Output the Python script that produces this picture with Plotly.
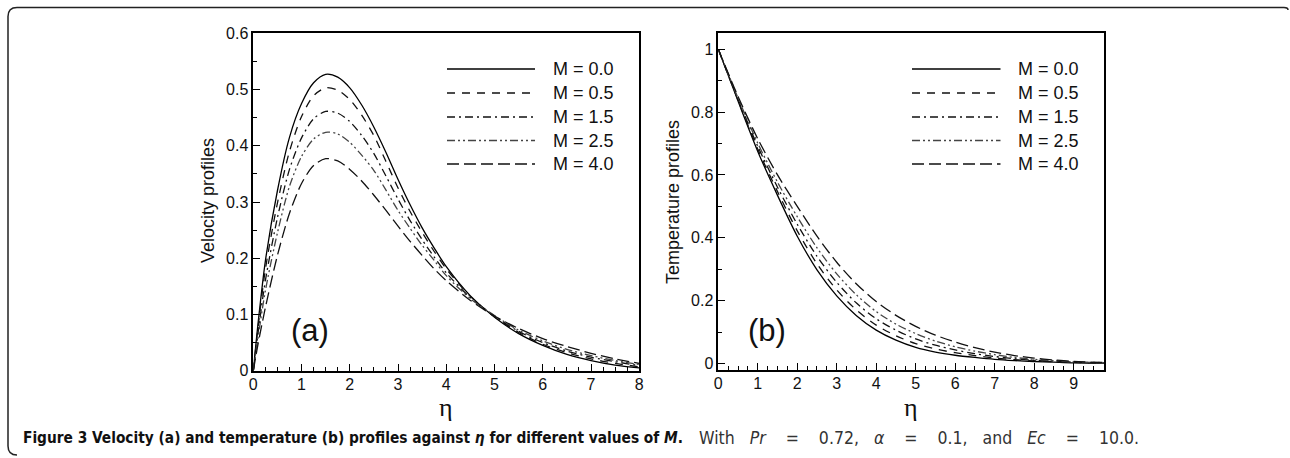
import plotly.graph_objects as go

W, H = 1290, 458

# ---------------- data ----------------
series_names = ["M = 0.0", "M = 0.5", "M = 1.5", "M = 2.5", "M = 4.0"]

eta_v = [0, 0.1, 0.25, 0.5, 0.75, 1.0, 1.25, 1.5, 1.75, 2.0, 2.25, 2.5, 2.75,
         3.0, 3.25, 3.5, 3.75, 4.0, 4.5, 5.0, 5.5, 6.0, 6.5, 7.0, 7.5, 8.0]
vel_M00 = [0, 0.085, 0.195, 0.32, 0.415, 0.475, 0.512, 0.527, 0.522, 0.503, 0.472, 0.433, 0.388,
           0.340, 0.295, 0.254, 0.218, 0.185, 0.133, 0.095, 0.066, 0.045, 0.029, 0.018, 0.010, 0.005]
vel_M05 = [0, 0.078, 0.18, 0.298, 0.39, 0.452, 0.489, 0.503, 0.499, 0.482, 0.454, 0.418, 0.372,
           0.325, 0.283, 0.246, 0.212, 0.181, 0.132, 0.096, 0.068, 0.047, 0.032, 0.021, 0.013, 0.007]
vel_M15 = [0, 0.068, 0.16, 0.272, 0.358, 0.414, 0.448, 0.461, 0.458, 0.443, 0.418, 0.386, 0.346,
           0.305, 0.267, 0.233, 0.202, 0.174, 0.130, 0.097, 0.070, 0.050, 0.035, 0.024, 0.016, 0.009]
vel_M25 = [0, 0.06, 0.142, 0.245, 0.328, 0.381, 0.412, 0.424, 0.421, 0.406, 0.383, 0.356, 0.321,
           0.285, 0.253, 0.223, 0.196, 0.169, 0.128, 0.098, 0.072, 0.053, 0.038, 0.027, 0.018, 0.011]
vel_M40 = [0, 0.048, 0.112, 0.205, 0.28, 0.333, 0.365, 0.377, 0.373, 0.358, 0.337, 0.312, 0.285,
           0.257, 0.230, 0.205, 0.181, 0.160, 0.125, 0.097, 0.075, 0.057, 0.043, 0.031, 0.021, 0.013]

eta_t = [0, 0.5, 1.0, 1.5, 2.0, 2.5, 3.0, 3.5, 4.0, 4.5, 5.0, 5.5, 6.0, 6.5, 7.0, 7.5,
         8.0, 8.5, 9.0, 10.0]
tem_M00 = [1, 0.835, 0.675, 0.535, 0.405, 0.298, 0.215, 0.152, 0.106, 0.074, 0.051, 0.036,
           0.026, 0.019, 0.013, 0.009, 0.006, 0.004, 0.002, 0.001]
tem_M05 = [1, 0.838, 0.682, 0.547, 0.422, 0.317, 0.234, 0.170, 0.122, 0.088, 0.063, 0.046,
           0.034, 0.025, 0.017, 0.012, 0.008, 0.005, 0.003, 0.001]
tem_M15 = [1, 0.841, 0.691, 0.561, 0.443, 0.341, 0.258, 0.192, 0.142, 0.106, 0.078, 0.058,
           0.043, 0.031, 0.022, 0.015, 0.010, 0.007, 0.004, 0.001]
tem_M25 = [1, 0.845, 0.701, 0.577, 0.467, 0.368, 0.285, 0.218, 0.165, 0.125, 0.095, 0.071,
           0.053, 0.039, 0.028, 0.019, 0.013, 0.009, 0.005, 0.002]
tem_M40 = [1, 0.850, 0.715, 0.600, 0.500, 0.405, 0.322, 0.253, 0.197, 0.153, 0.118, 0.090,
           0.068, 0.050, 0.036, 0.025, 0.017, 0.011, 0.006, 0.002]

vel_ticks = [0, 0.1, 0.2, 0.3, 0.4, 0.5, 0.6]
tem_ticks = [0, 0.2, 0.4, 0.6, 0.8, 1]

caption_bold = ("Figure 3 Velocity (a) and temperature (b) profiles against <i>η</i> for different "
                "values of <i>M</i>.")
caption_rest = "With <i>Pr</i> = 0.72, <i>α</i> = 0.1, and <i>Ec</i> = 10.0."

# ---------------- styles ----------------
dashes = ["solid", "8px,7px", "8px,4px,2px,4px", "8px,3px,2px,3px,2px,3px", "12px,5px"]
colors = ["#000000", "#111111", "#111111", "#444444", "#111111"]
LW = 1.3


def px(x):
    return x / W


def py(y):
    return 1 - y / H


fig = go.Figure()

vel = [vel_M00, vel_M05, vel_M15, vel_M25, vel_M40]
tem = [tem_M00, tem_M05, tem_M15, tem_M25, tem_M40]
for i, name in enumerate(series_names):
    fig.add_trace(go.Scatter(x=eta_v, y=vel[i], mode="lines", name=name, showlegend=False,
                             line=dict(color=colors[i], width=LW, dash=dashes[i], shape="spline",
                                       smoothing=0.8),
                             xaxis="x", yaxis="y"))
    fig.add_trace(go.Scatter(x=eta_t, y=tem[i], mode="lines", name=name, showlegend=False,
                             line=dict(color=colors[i], width=LW, dash=dashes[i], shape="spline",
                                       smoothing=0.8),
                             xaxis="x2", yaxis="y2"))

tickfont = dict(family="Liberation Sans, Arial, sans-serif", size=16, color="#111")
axis_common = dict(showgrid=False, zeroline=False, showline=True, mirror=True,
                   linecolor="black", linewidth=1.5, ticks="inside", ticklen=7,
                   tickwidth=1, tickcolor="black", tickfont=tickfont, automargin=False)

fig.update_layout(
    width=W, height=H, margin=dict(l=0, r=0, t=0, b=0, autoexpand=False),
    paper_bgcolor="white", plot_bgcolor="white", showlegend=False,
    xaxis=dict(domain=[px(253.3), px(639.3)], range=[0, 8], tickmode="array",
               tickvals=list(range(0, 9)), anchor="y",
               minor=dict(ticks="inside", ticklen=4, dtick=0.25, tick0=0, tickcolor="black"),
               ticklabelstandoff=-2, **axis_common),
    yaxis=dict(domain=[py(370.7), py(33.3)], range=[0, 0.6], tickmode="array",
               tickvals=vel_ticks, ticktext=[f"{v:g}" for v in vel_ticks], anchor="x",
               minor=dict(ticks="inside", ticklen=4, dtick=0.05, tick0=0, tickcolor="black"),
               ticklabelstandoff=0, **axis_common),
    xaxis2=dict(domain=[px(718.3), px(1104)], range=[0, 9.77], tickmode="array",
                tickvals=list(range(0, 10)), anchor="y2",
                minor=dict(ticks="inside", ticklen=4, dtick=0.25, tick0=0, tickcolor="black"),
                ticklabelstandoff=-2, **axis_common),
    yaxis2=dict(domain=[py(370), py(33.3)], range=[-0.021, 1.051], tickmode="array",
                tickvals=tem_ticks, ticktext=[f"{v:g}" for v in tem_ticks], anchor="x2",
                minor=dict(ticks="inside", ticklen=4, dtick=0.1, tick0=0, tickcolor="black"),
                ticklabelstandoff=0, **axis_common),
)

annotations = []
shapes = []


def note(text, x, y, font, xanchor="center", yanchor="middle", **kw):
    annotations.append(dict(text=text, x=x, y=y, xref="paper", yref="paper", showarrow=False,
                            xanchor=xanchor, yanchor=yanchor, font=font, **kw))


# axis titles
title_font = dict(family="Liberation Sans, Arial, sans-serif", size=18, color="#111")
eta_font = dict(family="Liberation Serif, DejaVu Serif, serif", size=26, color="#111")
note("Velocity profiles", px(208), py(201), title_font, textangle=-90)
note("Temperature profiles", px(673), py(202), title_font, textangle=-90)
note("η", px(446), py(407), eta_font)
note("η", px(911), py(407), eta_font)

# panel labels
panel_font = dict(family="Liberation Sans, Arial, sans-serif", size=31, color="#111")
annotations.append(dict(text="(a)", x=1.17, y=0.072, xref="x", yref="y", showarrow=False,
                        xanchor="center", yanchor="middle", font=panel_font))
annotations.append(dict(text="(b)", x=1.23, y=0.106, xref="x2", yref="y2", showarrow=False,
                        xanchor="center", yanchor="middle", font=panel_font))

# legends
legend_font = dict(family="Liberation Sans, Arial, sans-serif", size=18, color="#111")
rows = [69, 93, 117, 140.5, 164]
for (lx0, lx1, tx) in [(447, 535, 551), (912, 1000.5, 1016)]:
    for i, name in enumerate(series_names):
        shapes.append(dict(type="line", xref="paper", yref="paper", x0=px(lx0), x1=px(lx1),
                           y0=py(rows[i]), y1=py(rows[i]),
                           line=dict(color=colors[i], width=LW, dash=dashes[i])))
        note(name, px(tx), py(rows[i]), legend_font, xanchor="left")

# caption
cap_family = "Liberation Sans Narrow, DejaVu Sans Condensed, Arial Narrow, sans-serif"
note("<b>" + caption_bold + "</b>", px(21), py(437.5),
     dict(family=cap_family, size=15.3, color="#111"), xanchor="left")
rest = caption_rest.replace(" = ", "&nbsp;&nbsp;&nbsp;&nbsp;=&nbsp;&nbsp;&nbsp;&nbsp;")
rest = rest.replace(" ", "&nbsp;&nbsp;&nbsp;")
note(rest, px(697), py(437.5), dict(family=cap_family, size=17.5, color="#333"), xanchor="left")

# frame around the figure (rounded top-left / bottom-left)
r = 9
path = (f"M {px(1288)},{py(10)} Q {px(1288)},{py(7.5)} {px(1284)},{py(7.5)} "
        f"L {px(8 + r)},{py(7.5)} Q {px(8)},{py(7.5)} {px(8)},{py(7.5 + r)} "
        f"L {px(8)},{py(455 - r)} Q {px(8)},{py(455)} {px(8 + r)},{py(455)}")
shapes.append(dict(type="path", xref="paper", yref="paper", path=path,
                   line=dict(color="#222", width=1.5)))

fig.update_layout(annotations=annotations, shapes=shapes)

fig.write_html("out.html", config={"displayModeBar": False},
               post_script="document.body.style.margin='0';"
                           "document.documentElement.style.overflow='hidden';")
